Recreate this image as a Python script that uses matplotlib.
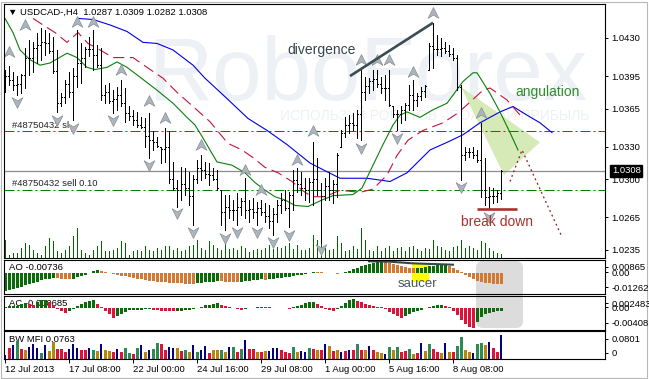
import numpy as np
import matplotlib
matplotlib.use('Agg')
import matplotlib.pyplot as plt
from matplotlib.path import Path
from matplotlib.patches import Polygon, Rectangle, FancyBboxPatch
from matplotlib.transforms import IdentityTransform, blended_transform_factory

plt.rcParams['font.family'] = ['Liberation Sans', 'DejaVu Sans']
plt.rcParams['font.size'] = 6.8

#%%
# USDCAD H4 bars
highs = [1.0401, 1.0404, 1.0399, 1.0395, 1.0397, 1.0421, 1.0428, 1.0426, 1.0435, 1.0439,
         1.0437, 1.0435, 1.0431, 1.0419, 1.0379, 1.0391, 1.0399, 1.0402, 1.0437, 1.0425,
         1.0422, 1.0431, 1.0437, 1.0424, 1.0421, 1.0387, 1.0389, 1.0382, 1.0385, 1.0391,
         1.0384, 1.0367, 1.0364, 1.0362, 1.0357, 1.0356, 1.0361, 1.0344, 1.0339, 1.0330,
         1.0347, 1.0344, 1.0316, 1.0299, 1.0311, 1.0310, 1.0307, 1.0304, 1.0318, 1.0322,
         1.0316, 1.0315, 1.0310, 1.0309, 1.0290, 1.0286, 1.0286, 1.0281, 1.0287, 1.0283,
         1.0301, 1.0281, 1.0283, 1.0279, 1.0281, 1.0278, 1.0276, 1.0274, 1.0281, 1.0287,
         1.0290, 1.0288, 1.0309, 1.0310, 1.0307, 1.0301, 1.0301, 1.0334, 1.0320, 1.0297,
         1.0301, 1.0307, 1.0299, 1.0324, 1.0345, 1.0357, 1.0359, 1.0361, 1.0364, 1.0401,
         1.0394, 1.0393, 1.0401, 1.0401, 1.0394, 1.0396, 1.0401, 1.0367, 1.0364, 1.0367,
         1.0370, 1.0387, 1.0391, 1.0379, 1.0385, 1.0387, 1.0425, 1.0444, 1.0433, 1.0430,
         1.0426, 1.0424, 1.0421, 1.0414, 1.0387, 1.0330, 1.0329, 1.0330, 1.0327, 1.0352,
         1.0320, 1.0293, 1.0292, 1.0290, 1.0309]
lows = [1.0380, 1.0387, 1.0382, 1.0378, 1.0379, 1.0384, 1.0396, 1.0399, 1.0407, 1.0410,
        1.0414, 1.0416, 1.0398, 1.0362, 1.0367, 1.0370, 1.0376, 1.0355, 1.0385, 1.0389,
        1.0403, 1.0413, 1.0401, 1.0403, 1.0373, 1.0370, 1.0370, 1.0361, 1.0364, 1.0367,
        1.0353, 1.0355, 1.0350, 1.0348, 1.0347, 1.0330, 1.0320, 1.0327, 1.0330, 1.0315,
        1.0316, 1.0297, 1.0290, 1.0275, 1.0281, 1.0286, 1.0276, 1.0258, 1.0297, 1.0299,
        1.0301, 1.0295, 1.0299, 1.0290, 1.0258, 1.0253, 1.0264, 1.0263, 1.0258, 1.0267,
        1.0264, 1.0261, 1.0264, 1.0258, 1.0267, 1.0261, 1.0255, 1.0249, 1.0261, 1.0269,
        1.0272, 1.0256, 1.0272, 1.0288, 1.0286, 1.0281, 1.0279, 1.0276, 1.0286, 1.0241,
        1.0281, 1.0281, 1.0278, 1.0284, 1.0330, 1.0339, 1.0343, 1.0345, 1.0338, 1.0336,
        1.0373, 1.0379, 1.0382, 1.0385, 1.0379, 1.0373, 1.0367, 1.0357, 1.0345, 1.0352,
        1.0355, 1.0364, 1.0364, 1.0367, 1.0373, 1.0376, 1.0401, 1.0402, 1.0414, 1.0413,
        1.0416, 1.0413, 1.0410, 1.0382, 1.0299, 1.0318, 1.0321, 1.0320, 1.0316, 1.0284,
        1.0276, 1.0273, 1.0278, 1.0279, 1.0282]
opens = [1.0398, 1.0395, 1.0391, 1.0387, 1.0388, 1.0396, 1.0412, 1.0412, 1.0421, 1.0424,
         1.0426, 1.0425, 1.0418, 1.0400, 1.0370, 1.0376, 1.0388, 1.0380, 1.0395, 1.0407,
         1.0412, 1.0420, 1.0420, 1.0414, 1.0405, 1.0378, 1.0380, 1.0372, 1.0374, 1.0378,
         1.0370, 1.0361, 1.0358, 1.0355, 1.0350, 1.0348, 1.0340, 1.0336, 1.0334, 1.0330,
         1.0328, 1.0330, 1.0300, 1.0292, 1.0290, 1.0296, 1.0292, 1.0285, 1.0300, 1.0310,
         1.0309, 1.0305, 1.0304, 1.0300, 1.0290, 1.0270, 1.0275, 1.0272, 1.0272, 1.0275,
         1.0280, 1.0272, 1.0273, 1.0270, 1.0274, 1.0270, 1.0266, 1.0262, 1.0268, 1.0276,
         1.0281, 1.0274, 1.0286, 1.0299, 1.0296, 1.0292, 1.0290, 1.0298, 1.0300, 1.0290,
         1.0285, 1.0294, 1.0290, 1.0296, 1.0330, 1.0343, 1.0350, 1.0352, 1.0350, 1.0360,
         1.0380, 1.0386, 1.0390, 1.0392, 1.0388, 1.0384, 1.0384, 1.0367, 1.0360, 1.0360,
         1.0364, 1.0368, 1.0378, 1.0373, 1.0377, 1.0381, 1.0401, 1.0423, 1.0420, 1.0420,
         1.0421, 1.0418, 1.0415, 1.0412, 1.0385, 1.0322, 1.0325, 1.0325, 1.0322, 1.0318,
         1.0290, 1.0284, 1.0285, 1.0285, 1.0287]
closes = [1.0395, 1.0391, 1.0387, 1.0388, 1.0396, 1.0412, 1.0412, 1.0421, 1.0424, 1.0426,
          1.0425, 1.0418, 1.0400, 1.0370, 1.0376, 1.0388, 1.0380, 1.0395, 1.0407, 1.0412,
          1.0420, 1.0420, 1.0414, 1.0405, 1.0378, 1.0380, 1.0372, 1.0374, 1.0378, 1.0370,
          1.0361, 1.0358, 1.0355, 1.0350, 1.0348, 1.0340, 1.0336, 1.0334, 1.0331, 1.0328,
          1.0330, 1.0300, 1.0292, 1.0290, 1.0296, 1.0292, 1.0285, 1.0300, 1.0310, 1.0309,
          1.0305, 1.0304, 1.0300, 1.0292, 1.0270, 1.0275, 1.0272, 1.0272, 1.0275, 1.0280,
          1.0272, 1.0273, 1.0270, 1.0274, 1.0270, 1.0266, 1.0262, 1.0268, 1.0276, 1.0281,
          1.0274, 1.0286, 1.0299, 1.0296, 1.0292, 1.0290, 1.0298, 1.0300, 1.0290, 1.0285,
          1.0294, 1.0290, 1.0296, 1.0322, 1.0343, 1.0350, 1.0352, 1.0350, 1.0360, 1.0380,
          1.0386, 1.0390, 1.0392, 1.0388, 1.0384, 1.0384, 1.0368, 1.0360, 1.0360, 1.0364,
          1.0368, 1.0378, 1.0373, 1.0377, 1.0381, 1.0386, 1.0423, 1.0420, 1.0420, 1.0421,
          1.0418, 1.0415, 1.0412, 1.0385, 1.0322, 1.0325, 1.0325, 1.0322, 1.0318, 1.0290,
          1.0284, 1.0285, 1.0285, 1.0287, 1.0308]
volumes = [1800, 300, 500, 500, 1000, 1500, 1300, 800, 500, 300,
           1200, 2000, 1700, 700, 500, 800, 1200, 2200, 3000, 800,
           500, 300, 800, 1200, 1700, 700, 700, 800, 1000, 1700,
           1500, 300, 700, 800, 700, 1200, 800, 700, 1000, 800,
           1200, 1200, 800, 1000, 700, 800, 1200, 1300, 1800, 1000,
           800, 1700, 1300, 1000, 800, 1500, 900, 1000, 800, 1200,
           1000, 600, 800, 900, 800, 1000, 1300, 900, 1100, 1000,
           1200, 1500, 900, 1300, 800, 800, 1000, 2300, 1800, 2200,
           1000, 800, 900, 2200, 1500, 700, 800, 1200, 900, 3000,
           1800, 800, 700, 1200, 700, 1000, 1200, 700, 1000, 1100,
           700, 1100, 1200, 900, 700, 1000, 900, 1800, 1200, 1100,
           800, 700, 1100, 1200, 1800, 1000, 1200, 1000, 800, 1700,
           1500, 1000, 700, 500, 400]

# Alligator lines (jaw / teeth / lips)
jaw_x = [18.25, 22, 26.25, 30.5, 34.5, 38, 42, 47, 50, 55, 60.75, 65.5, 70.5, 76.25,
         80.5, 83.75, 90.5, 96.25, 100.5, 106.25, 110.5, 114.5, 118.75, 123.75, 127,
         130.5, 133.75, 136.75]
jaw_y = [1.0448, 1.0447, 1.0442, 1.0436, 1.0426, 1.0425, 1.0419, 1.0405, 1.0393, 1.0376,
         1.0356, 1.0345, 1.0332, 1.0315, 1.0307, 1.0301, 1.0301, 1.0298, 1.0306, 1.0327,
         1.0334, 1.0341, 1.0352, 1.0362, 1.0367, 1.0359, 1.0352, 1.0343]
teeth_x = [7, 9.5, 12.5, 15.5, 18.25, 20.75, 23.75, 27, 32, 35.5, 39.5, 43, 47, 51.25,
           55.75, 59.25, 62, 65, 68.25, 71.75, 74.25, 76.75, 80, 83.75, 88.75, 92, 95.5,
           98, 100.75, 104.5, 109.5, 113.25, 116.25, 119.5, 121.25, 125.5, 129.25]
teeth_y = [1.0448, 1.0442, 1.0435, 1.0426, 1.0435, 1.0425, 1.0419, 1.0412, 1.0412, 1.0403,
           1.0393, 1.0380, 1.0367, 1.0353, 1.0333, 1.0327, 1.0320, 1.0311, 1.0306, 1.0298,
           1.0290, 1.0284, 1.0284, 1.0290, 1.0288, 1.0291, 1.0304, 1.0322, 1.0336, 1.0345,
           1.0352, 1.0361, 1.0371, 1.0382, 1.0384, 1.0373, 1.0357]
lips_x = [0, 2, 3.75, 6.25, 8.75, 11.25, 15.5, 18, 20.5, 22.5, 25.5, 28, 30.5, 33.75, 38,
          42, 45.5, 47.5, 49.5, 51.25, 53, 56.75, 60, 62.5, 65, 67.5, 70, 72.5, 75.75,
          79.25, 82, 87, 89.25, 92, 94.5, 97, 98.75, 100.5, 103.75, 107, 110.5, 112.5,
          114.5, 117, 118, 121.25, 123.75, 126.25, 128.25]
lips_y = [1.0448, 1.0435, 1.0419, 1.0410, 1.0405, 1.0407, 1.0416, 1.0412, 1.0403, 1.0401,
          1.0403, 1.0408, 1.0403, 1.0394, 1.0382, 1.0370, 1.0357, 1.0350, 1.0338, 1.0327,
          1.0316, 1.0313, 1.0306, 1.0297, 1.0290, 1.0284, 1.0281, 1.0276, 1.0275, 1.0281,
          1.0285, 1.0286, 1.0292, 1.0313, 1.0332, 1.0350, 1.0359, 1.0362, 1.0357, 1.0364,
          1.0370, 1.0380, 1.0390, 1.0398, 1.0398, 1.0379, 1.0362, 1.0343, 1.0327]

# fractal arrows (bar index, price of the arrow)
frac_up_i = [1, 5, 18, 22, 29, 36, 40, 49, 60, 64, 73, 77, 89, 93, 96, 102, 107, 119]
frac_up_p = [1.0417, 1.0442, 1.0445, 1.0445, 1.0401, 1.0372, 1.0356, 1.0332, 1.0309,
             1.0290, 1.0318, 1.0344, 1.0410, 1.0410, 1.0410, 1.0399, 1.0453, 1.0361]
frac_dn_i = [3, 13, 17, 27, 36, 43, 47, 55, 58, 63, 67, 71, 79, 89, 98, 114, 121]
frac_dn_p = [1.0371, 1.0355, 1.0347, 1.0355, 1.0313, 1.0269, 1.0252, 1.0246, 1.0252,
             1.0252, 1.0242, 1.0249, 1.0236, 1.0329, 1.0338, 1.0293, 1.0265]

# order lines
sl_price = 1.0344
bid_price = 1.0308
sell_price = 1.0290

# Awesome Oscillator
ao = [-0.01262, -0.01197, -0.01126, -0.01004, -0.00954, -0.00839, -0.00767, -0.00667, -0.00595, -0.00480,
      -0.00430, -0.00380, -0.00308, -0.00330, -0.00373, -0.00409, -0.00430, -0.00359, -0.00272, -0.00186,
      -0.00093, 0.00057, 0.00165, 0.00237, 0.00186, 0.00108, 0.00036, -0.00043, -0.00100, -0.00158,
      -0.00215, -0.00258, -0.00308, -0.00359, -0.00402, -0.00452, -0.00502, -0.00538, -0.00574, -0.00602,
      -0.00631, -0.00660, -0.00681, -0.00703, -0.00717, -0.00731, -0.00739, -0.00746, -0.00710, -0.00674,
      -0.00645, -0.00617, -0.00581, -0.00545, -0.00559, -0.00574, -0.00588, -0.00595, -0.00602, -0.00574,
      -0.00538, -0.00509, -0.00480, -0.00452, -0.00423, -0.00437, -0.00402, -0.00366, -0.00337, -0.00301,
      -0.00265, -0.00229, -0.00186, -0.00143, -0.00093, -0.00043, 0.00043, 0.00129, 0.00108, 0.00079,
      0.00050, 0.00029, 0.00007, -0.00022, 0.00065, 0.00143, 0.00215, 0.00315, 0.00402, 0.00502,
      0.00581, 0.00667, 0.00746, 0.00817, 0.00865, 0.00825, 0.00760, 0.00681, 0.00602, 0.00531,
      0.00466, 0.00416, 0.00373, 0.00394, 0.00430, 0.00473, 0.00509, 0.00545, 0.00574, 0.00595,
      0.00609, 0.00516, 0.00380, 0.00229, 0.00072, -0.00086, -0.00251, -0.00402, -0.00516, -0.00609,
      -0.00667, -0.00703, -0.00724, -0.00735, -0.00736]

# Accelerator Oscillator
ac = [0.00020, 0.00026, 0.00032, 0.00041, 0.00071, 0.00102, 0.00081, 0.00061, 0.00112, 0.00152,
      0.00162, 0.00122, 0.00061, -0.00030, -0.00071, -0.00102, -0.00071, -0.00030, 0.00041, 0.00081,
      0.00112, 0.00142, 0.00162, 0.00081, 0.00010, -0.00061, -0.00132, -0.00203, -0.00173, -0.00122,
      -0.00081, -0.00051, -0.00045, -0.00041, -0.00037, -0.00032, -0.00030, -0.00041, -0.00051, -0.00061,
      -0.00067, -0.00071, -0.00075, -0.00065, -0.00057, -0.00049, -0.00041, -0.00032, -0.00010, 0.00020,
      0.00045, 0.00065, 0.00081, 0.00091, 0.00061, 0.00030, 0.00006, -0.00016, -0.00032, -0.00045,
      -0.00030, -0.00016, -0.00004, 0.00008, 0.00018, 0.00012, 0.00006, -0.00001, -0.00006, -0.00010,
      -0.00014, -0.00018, 0.00010, 0.00037, 0.00061, 0.00087, 0.00108, 0.00122, 0.00081, 0.00030,
      -0.00020, -0.00051, -0.00061, -0.00020, 0.00041, 0.00102, 0.00152, 0.00177, 0.00142, 0.00112,
      0.00081, 0.00061, 0.00041, 0.00024, 0.00006, -0.00030, -0.00081, -0.00132, -0.00173, -0.00203,
      -0.00162, -0.00122, -0.00087, -0.00061, -0.00037, -0.00016, 0.00010, 0.00030, 0.00047, 0.00061,
      0.00041, 0.00016, -0.00061, -0.00142, -0.00244, -0.00335, -0.00386, -0.00408, -0.00294, -0.00193,
      -0.00132, -0.00102, -0.00085, -0.00075, -0.000685]

# BW Market Facilitation Index, colour code: g up/up, b down/down, n up/down, r down/up
mfi = [0.0134, 0.0360, 0.0447, 0.0581, 0.0312, 0.0279, 0.0393, 0.0470, 0.0336, 0.0202,
       0.0447, 0.0269, 0.0538, 0.0312, 0.0312, 0.0225, 0.0312, 0.0470, 0.0336, 0.0279,
       0.0279, 0.0336, 0.0279, 0.0269, 0.0470, 0.0279, 0.0259, 0.0225, 0.0312, 0.0225,
       0.0336, 0.0202, 0.0168, 0.0360, 0.0447, 0.0225, 0.0279, 0.0312, 0.0504, 0.0470,
       0.0279, 0.0393, 0.0336, 0.0336, 0.0245, 0.0279, 0.0225, 0.0447, 0.0225, 0.0279,
       0.0427, 0.0202, 0.0279, 0.0279, 0.0279, 0.0225, 0.0393, 0.0393, 0.0225, 0.0312,
       0.0615, 0.0312, 0.0312, 0.0225, 0.0225, 0.0245, 0.0245, 0.0336, 0.0360, 0.0279,
       0.0225, 0.0202, 0.0393, 0.0225, 0.0245, 0.0225, 0.0360, 0.0312, 0.0279, 0.0279,
       0.0470, 0.0427, 0.0245, 0.0279, 0.0225, 0.0245, 0.0279, 0.0279, 0.0470, 0.0279,
       0.0279, 0.0427, 0.0279, 0.0225, 0.0202, 0.0168, 0.0393, 0.0279, 0.0393, 0.0225,
       0.0245, 0.0312, 0.0168, 0.0202, 0.0504, 0.0245, 0.0470, 0.0312, 0.0225, 0.0202,
       0.0504, 0.0225, 0.0225, 0.0427, 0.0696, 0.0279, 0.0225, 0.0202, 0.0470, 0.0504,
       0.0447, 0.0538, 0.0360, 0.0225, 0.0763]
mfi_codes = ("nrngrbnnng" "nbbrrrnnnr" "rngbnbbrnr" "ggrgnbnggr" "rnnbrgbngn"
             "nrbbgbngrg" "nrrbrbnnnr" "rrgbnngrbr" "n"
             "brbnrnrgrb" "nrbbngbgrr" "gbrnbgrrbn" "brggbbnggb" "nrrn")

price_ticks = [1.0430, 1.0395, 1.0365, 1.0330, 1.0300, 1.0265, 1.0235]
time_tick_idx = [0, 16, 32, 48, 64, 80, 96, 112]
time_labels = ['12 Jul 2013', '17 Jul 08:00', '22 Jul 00:00', '24 Jul 16:00',
               '29 Jul 08:00', '1 Aug 00:00', '5 Aug 16:00', '8 Aug 08:00']

n = len(highs)
assert all(len(s) == n for s in (lows, opens, closes, volumes, ao, ac, mfi, mfi_codes))
x = np.arange(n)

#%%
W, H = 649, 379
fig = plt.figure(figsize=(W / 100, H / 100), dpi=100)


def panel(top, bottom):
    a = fig.add_axes([4 / W, 1 - bottom / H, 601 / W, (bottom - top) / H])
    a.set_xlim(-0.25, 150)
    a.set_xticks([])
    for s in a.spines.values():
        s.set_linewidth(0.8)
        s.set_color('black')
    a.yaxis.tick_right()
    a.tick_params(axis='y', length=2.5, width=0.7, pad=2, labelsize=6.8)
    return a


def side_labels(a, fracs, labels):
    lo, hi = a.get_ylim()
    a.set_yticks([lo + f * (hi - lo) for f in fracs])
    a.set_yticklabels(labels)


ax = panel(4, 258)
ax_ao = panel(260, 294)
ax_ac = panel(296, 330)
ax_mfi = panel(331, 359)
for a in (ax_ao, ax_ac, ax_mfi):
    a.set_facecolor('none')

# grey highlight behind the oscillators
fig.add_artist(FancyBboxPatch((476, H - 328), 47, 67, boxstyle='round,pad=0,rounding_size=7',
                              transform=IdentityTransform(), facecolor='#dcdcdc',
                              edgecolor='none', zorder=-1))
fig.add_artist(Rectangle((1, 1), W - 3, H - 3, transform=IdentityTransform(), fill=False,
                         edgecolor='#b8b8b8', linewidth=0.8, zorder=-2))

# main chart
ax.set_ylim(1.022764, 1.046127)
ax.set_yticks(price_ticks)
ax.set_yticklabels([f'{p:.4f}' for p in price_ticks])

ax.text(0.6057, 0.622, 'RoboForex', transform=ax.transAxes, fontsize=64, color='#edf0f4',
        ha='center', va='baseline', zorder=0.1)
ax.text(0.717, 0.559, 'ИСПОЛЬЗУЙ РОБОТОВ - ПОЛУЧАЙ ПРИБЫЛЬ', transform=ax.transAxes,
        fontsize=10, color='#eef1f4', ha='center', va='center', zorder=0.1)

ax.add_patch(Polygon([(114, 1.0385), (133.75, 1.0334), (124.75, 1.0304)],
                     facecolor='#d6eab8', edgecolor='none', zorder=0.8))

ax.axhline(sl_price, color='#b22222', lw=0.72, ls=(0, (10, 3, 2, 3)), zorder=1)
ax.axhline(bid_price, color='#8c8c8c', lw=0.9, zorder=1)
ax.axhline(sell_price, color='#008000', lw=0.72, ls=(0, (10, 3, 2, 3)), zorder=1)

trans_lbl = blended_transform_factory(ax.transAxes, ax.transData)
ax.annotate('#48750432 sl', xy=(0.0133, sl_price), xycoords=trans_lbl, xytext=(0, 4.2),
            textcoords='offset points', va='center', color='#222222', zorder=1.1)
ax.annotate('#48750432 sell 0.10', xy=(0.0133, sell_price), xycoords=trans_lbl,
            xytext=(0, 4.5), textcoords='offset points', va='center', color='#222222', zorder=1.1)

ax.vlines(x, 0, np.array(volumes) / 25400, transform=ax.get_xaxis_transform(),
          colors='#006400', lw=0.72, antialiased=False, zorder=1.2)

ax.plot(jaw_x, jaw_y, color='#0000e6', lw=0.8, zorder=1.5)
ax.plot(teeth_x, teeth_y, color='#c0143c', lw=0.8, ls=(0, (10, 5)), zorder=1.5)
ax.plot(lips_x, lips_y, color='#0a7f0a', lw=0.8, zorder=1.5)

ax.vlines(x, lows, highs, colors='black', lw=0.7, antialiased=False, zorder=2)
ax.hlines(opens, x - 0.3, x, colors='black', lw=0.7, antialiased=False, zorder=2)
ax.hlines(closes, x, x + 0.3, colors='black', lw=0.7, antialiased=False, zorder=2)

up_arrow = Path([(0, 0.55), (0.5, -0.45), (0, -0.15), (-0.5, -0.45), (0, 0.55)],
                [Path.MOVETO, Path.LINETO, Path.LINETO, Path.LINETO, Path.CLOSEPOLY])
dn_arrow = Path(up_arrow.vertices * [1, -1], up_arrow.codes)
ax.plot(frac_up_i, frac_up_p, ls='none', marker=up_arrow, ms=8.5, mfc='#adb5bc',
        mec='#868e96', mew=0.5, zorder=2.2)
ax.plot(frac_dn_i, frac_dn_p, ls='none', marker=dn_arrow, ms=8.5, mfc='#adb5bc',
        mec='#868e96', mew=0.5, zorder=2.2)

ax.text(0.0067, 0.9685, '▼ USDCAD-,H4  1.0287 1.0309 1.0282 1.0308', transform=ax.transAxes,
        va='center', color='black', zorder=3)
ax.text(1.0115, bid_price, f'{bid_price:.4f}', transform=trans_lbl, va='center', ha='left',
        color='white', clip_on=False, zorder=5,
        bbox=dict(boxstyle='square,pad=0.15', fc='black', ec='black'))

# hand-drawn analysis marks
ax.plot([86.25, 107], [1.0395, 1.0444], color='#3b4d52', lw=1.9, solid_capstyle='butt', zorder=3)
ax.text(70.5, 1.0419, 'divergence', fontsize=10, color='#34474c', va='center', zorder=3)
ax.text(127.5, 1.0380, 'angulation', fontsize=10, color='#2e8b2e', va='center', zorder=3)
ax.plot([118, 128], [1.02724, 1.02724], color='#a8322d', lw=1.9, solid_capstyle='butt', zorder=3)
ax.text(123, 1.0261, 'break down', fontsize=10, color='#a8322d', ha='center', va='center', zorder=3)
ax.plot([126.25, 129.25, 139.25], [1.0298, 1.0327, 1.0247], color='#8b1a1a', lw=0.9,
        ls=(0, (1.5, 2.5)), zorder=3)

# AO
ax_ao.set_ylim(-0.0147, 0.00968)
ao_col = ['#0b6b0b' if i == 0 or ao[i] > ao[i - 1] else '#d27a32' for i in range(n)]
ax_ao.add_patch(Rectangle((101.75, -0.0061), 4.25, 0.01291, facecolor='#ffff00',
                          edgecolor='none', zorder=0.5))
ax_ao.bar(x, ao, width=0.75, color=ao_col, linewidth=0, antialiased=False, zorder=1)
ax_ao.plot([91, 96.25, 101.75, 106.75, 112], [0.00875, 0.00846, 0.00731, 0.00681, 0.00631],
           color='#34474c', lw=1.5, zorder=2)
ax_ao.text(103, -0.0075, 'saucer', fontsize=9.5, color='#46585a', ha='center', va='center')
ax_ao.text(0.0083, 0.765, f'AO {ao[-1]:.5f}', transform=ax_ao.transAxes, va='center', zorder=0.4)
side_labels(ax_ao, [0.803, 0.647, 0.197], [f'{max(ao):.5f}', '0.00', f'{min(ao):.5f}'])

# AC
ax_ac.set_ylim(-0.00453, 0.00238)
ac_col = ['#0b6b0b' if i == 0 or ac[i] > ac[i - 1] else '#dc143c' for i in range(n)]
ax_ac.text(0.0083, 0.794, f'AC {ac[-1]:.6f}', transform=ax_ac.transAxes, va='center', zorder=0.4)
ax_ac.bar(x, ac, width=0.75, color=ac_col, linewidth=0, antialiased=False, zorder=1)
side_labels(ax_ac, [0.794, 0.662, 0.22], ['0.002483', '0.00', f'{min(ac):.5f}'])

# BW MFI
ax_mfi.set_ylim(0, 0.089)
mfi_colours = {'g': '#2e8b57', 'b': '#b8860b', 'n': '#000080', 'r': '#dc143c'}
ax_mfi.bar(x, mfi, width=[0.3 if c == 'n' else 0.75 for c in mfi_codes],
           color=[mfi_colours[c] for c in mfi_codes], linewidth=0, antialiased=False, zorder=1)
ax_mfi.text(0.0083, 0.714, f'BW MFI {mfi[-1]:.4f}', transform=ax_mfi.transAxes, va='center',
            zorder=0.4)
side_labels(ax_mfi, [0.73, 0.232], ['0.0801', '0'])

ax_mfi.set_xticks(time_tick_idx)
ax_mfi.set_xticklabels(time_labels, ha='left')
ax_mfi.tick_params(axis='x', length=3, width=0.7, pad=1.5, labelsize=6.8)

fig.savefig('out.png', dpi=100)
